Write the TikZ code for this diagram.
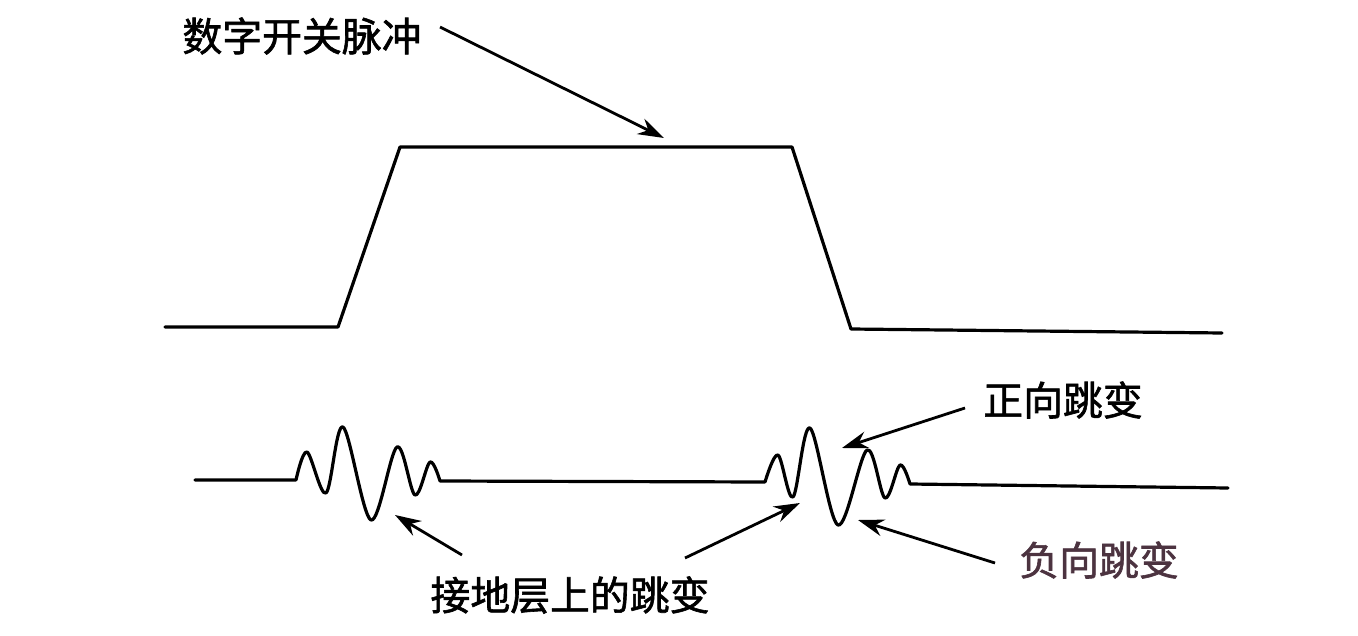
\documentclass[tikz,border=0pt]{standalone}
\usepackage{fontspec}
\newfontfamily\cjk{Noto Sans CJK SC}[FakeBold=1.5]
\usetikzlibrary{arrows.meta}
\begin{document}
\begin{tikzpicture}[x=1bp,y=-1bp,
  wave/.style={line width=3.2bp, line join=round, line cap=round},
  pointer/.style={line width=2.8bp, -{Stealth[length=26bp,width=17bp]}},
  lbl/.style={font=\cjk\fontsize{40}{44}\selectfont, inner sep=0pt}]
\useasboundingbox (0,0) rectangle (1358,636);
% digital pulse
\draw[wave] (165,327) -- (338,327) -- (400,147) -- (792,147) -- (851,329) -- (1222,333);
% ground bounce waves
\draw[wave] (195,480) -- (296,480)
  plot[smooth, tension=0.55] coordinates {(296,480) (307,452) (326,493) (343,427) (371,520) (397,447) (415,495) (430,462) (440,481)}
  -- (765,482)
  plot[smooth, tension=0.55] coordinates {(765,482) (778,455) (793,497) (810,428) (838,525) (867,450) (885,498) (900,465) (910,484)}
  -- (1228,488);
% labels
\node[lbl] (pulse) at (302,36) {数字开关脉冲};
\node[lbl] (pos) at (1063,400) {正向跳变};
\node[lbl, text={rgb,1:red,0.3;green,0.2;blue,0.25}] (neg) at (1099,560) {负向跳变};
\node[lbl] (gnd) at (570,595) {接地层上的跳变};
% arrow targets
\coordinate (tPulse) at (664,138);
\coordinate (tPos) at (842,448);
\coordinate (tNeg) at (858,520);
\coordinate (tG1) at (395,515);
\coordinate (tG2) at (800,503);
\coordinate (sPulse) at (440,27);
\coordinate (sPos) at (965,408);
\coordinate (sNeg) at (995,563);
\coordinate (sG1) at (462,555);
\coordinate (sG2) at (685,558);
\draw[pointer] (sPulse) -- (tPulse);
\draw[pointer] (sPos) -- (tPos);
\draw[pointer] (sNeg) -- (tNeg);
\draw[pointer] (sG1) -- (tG1);
\draw[pointer] (sG2) -- (tG2);
\end{tikzpicture}
\end{document}
